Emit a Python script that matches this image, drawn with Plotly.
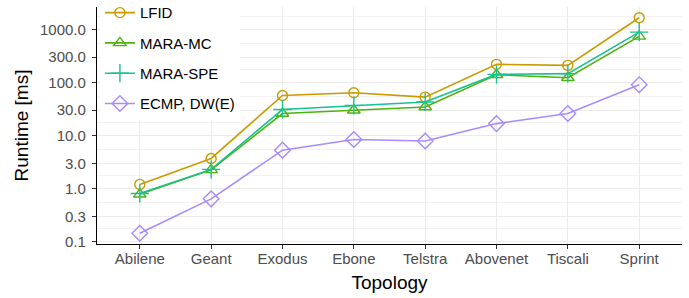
import numpy as np
import plotly.graph_objects as go

topologies = ["Abilene", "Geant", "Exodus", "Ebone", "Telstra", "Abovenet", "Tiscali", "Sprint"]
lfid = [1.2, 3.7, 57, 64, 53, 220, 210, 1660]
mara_mc = [0.78, 2.25, 26, 30, 34.5, 140, 123, 740]
mara_spe = [0.81, 2.3, 31, 37, 43, 142, 147, 890]
ecmp = [0.144, 0.64, 5.3, 8.4, 7.9, 16.8, 26, 91]

series_names = ["LFID", "MARA-MC", "MARA-SPE", "ECMP, DW(E)"]
series_vals = [lfid, mara_mc, mara_spe, ecmp]
colors = ["#C99B00", "#4FB20E", "#17C294", "#A68BFF"]
symbols = ["circle-open", "triangle-up-open", "cross-thin-open", "diamond-open"]
sizes = [10, 11, 13, 12]

ytick_vals = [0.1, 0.3, 1, 3, 10, 30, 100, 300, 1000]
ytick_text = ["0.1", "0.3", "1.0", "3.0", "10.0", "30.0", "100.0", "300.0", "1000.0"]
lb = np.log10(ytick_vals + [3000])
minor_vals = [10 ** ((a + b) / 2) for a, b in zip(lb[:-1], lb[1:])]

fig = go.Figure()
for i, (name, vals) in enumerate(zip(series_names, series_vals)):
    fig.add_trace(go.Scatter(
        x=topologies, y=vals, name=name, mode="lines+markers",
        legendgroup=name,
        line=dict(color=colors[i], width=1.6),
        marker=dict(symbol=symbols[i], size=sizes[i], color=colors[i],
                    line=dict(color=colors[i], width=1.4)),
    ))

allv = np.log10(np.concatenate([np.array(v, dtype=float) for v in series_vals]))
lo, hi = allv.min(), allv.max()
pad = 0.05 * (hi - lo)

fig.update_layout(
    width=689, height=298,
    margin=dict(l=97, r=7, t=7, b=54, autoexpand=False),
    paper_bgcolor="white", plot_bgcolor="white",
    font=dict(family="Liberation Sans, Arial, sans-serif", size=15, color="black"),
    showlegend=True,
    legend=dict(x=0.005, y=1.045, xanchor="left", yanchor="top",
                bgcolor="white", font=dict(size=15, color="black"),
                tracegroupgap=7.8, itemwidth=30),
)
fig.update_xaxes(
    title=dict(text="Topology", font=dict(size=19, color="black"), standoff=9),
    range=[-0.6, len(topologies) - 0.4],
    showline=True, linecolor="black", linewidth=1.2,
    ticks="outside", ticklen=4, tickcolor="#333333", tickwidth=1,
    ticklabelstandoff=-3,
    tickfont=dict(size=15, color="#4D4D4D"),
    showgrid=True, gridcolor="#EBEBEB", gridwidth=1.2,
    zeroline=False,
)
fig.update_yaxes(
    type="log",
    title=dict(text="Runtime [ms]", font=dict(size=19, color="black"), standoff=6),
    range=[lo - pad, hi + pad],
    tickvals=ytick_vals, ticktext=ytick_text,
    showline=True, linecolor="black", linewidth=1.2,
    ticks="outside", ticklen=4, tickcolor="#333333", tickwidth=1,
    ticklabelstandoff=3,
    tickfont=dict(size=15, color="#4D4D4D"),
    showgrid=True, gridcolor="#EBEBEB", gridwidth=1.2,
    minor=dict(tickvals=minor_vals, showgrid=True, gridcolor="#F2F2F2", gridwidth=0.8, ticks=""),
    zeroline=False,
)

fig.write_html("out.html", config={"displayModeBar": False},
               post_script="document.body.style.margin='0';document.body.style.overflow='hidden';")
